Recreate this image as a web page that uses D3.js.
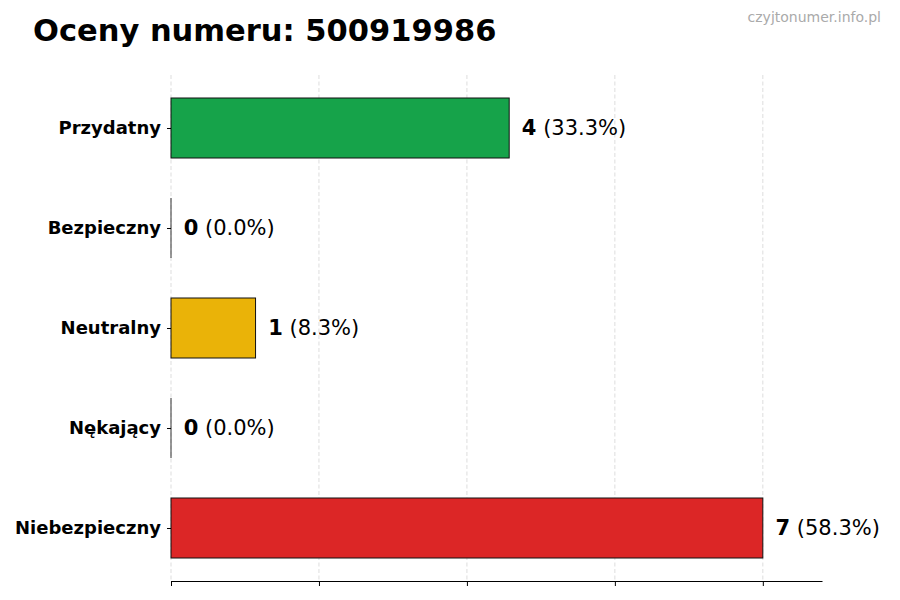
<!DOCTYPE html>
<html>
<head>
<meta charset="utf-8">
<script src="https://cdn.jsdelivr.net/npm/d3@7"></script>
<style>
  body { margin: 0; background: #fff; }
  svg { font-family: "DejaVu Sans", sans-serif; }
</style>
</head>
<body>
<svg id="chart" width="900" height="600"></svg>
<script>
var categories = ["Przydatny", "Bezpieczny", "Neutralny", "Nękający", "Niebezpieczny"];
var counts = [4, 0, 1, 0, 7];
var percents = ["33.3%", "0.0%", "8.3%", "0.0%", "58.3%"];
var colors = ["#16a34a", "#16a34a", "#eab308", "#dc2626", "#dc2626"];
var xTicks = [0, 1.75, 3.5, 5.25, 7];

var svg = d3.select('#chart');
var plotLeft = 171, plotRight = 822, plotTop = 75, plotBottom = 581;

var x = d3.scaleLinear().domain([0, 7.7]).range([plotLeft, plotRight]);
var y = d3.scaleLinear().domain([-0.53, 4.53]).range([plotTop, plotBottom]);
var barH = y(0.3) - y(-0.3);

// title + watermark
svg.append('text').attr('x', 33).attr('y', 41)
    .attr('font-size', 30.5).attr('font-weight', 'bold').attr('fill', '#000')
    .text('Oceny numeru: 500919986');
svg.append('text').attr('x', 881).attr('y', 22).attr('text-anchor', 'end')
    .attr('font-size', 14).attr('fill', '#aaaaaa')
    .text('czyjtonumer.info.pl');

// grid
svg.append('g').selectAll('line').data(xTicks).enter().append('line')
    .attr('x1', function(d) { return x(d) }).attr('x2', function(d) { return x(d) })
    .attr('y1', plotTop).attr('y2', plotBottom)
    .attr('stroke', '#d4d4d4').attr('stroke-width', 0.8)
    .attr('stroke-dasharray', '4,2.5');

// bars
svg.append('g').selectAll('rect').data(counts).enter().append('rect')
    .attr('x', x(0))
    .attr('y', function(d, i) { return y(i) - barH / 2 })
    .attr('width', function(d) { return x(d) - x(0) })
    .attr('height', barH)
    .attr('fill', function(d, i) { return colors[i] })
    .attr('stroke', '#111').attr('stroke-width', 1);

// zero bars still show their edge
counts.forEach(function(d, i) {
  if (d === 0) {
    svg.append('line')
      .attr('x1', x(0)).attr('x2', x(0))
      .attr('y1', y(i) - barH / 2).attr('y2', y(i) + barH / 2)
      .attr('stroke', '#333').attr('stroke-width', 1);
  }
});

// value labels
var labels = svg.append('g').selectAll('text').data(counts).enter().append('text')
    .attr('x', function(d) { return x(d + 0.15) })
    .attr('y', function(d, i) { return y(i) })
    .attr('dy', '0.35em')
    .attr('font-size', 21).attr('fill', '#000');
labels.append('tspan').attr('font-weight', 'bold').text(function(d) { return d });
labels.append('tspan').text(function(d, i) { return ' (' + percents[i] + ')' });

// y axis (no spine)
var yAxis = svg.append('g').attr('transform', 'translate(' + plotLeft + ',0)')
    .call(d3.axisLeft(y).tickValues(d3.range(categories.length))
        .tickFormat(function(i) { return categories[i] }).tickSize(4).tickPadding(6));
yAxis.select('.domain').remove();
yAxis.selectAll('text').attr('font-size', 18).attr('font-weight', 'bold')
    .attr('fill', '#000').attr('font-family', '"DejaVu Sans", sans-serif');

// x axis, ticks without labels
var xAxis = svg.append('g').attr('transform', 'translate(0,' + plotBottom + ')')
    .call(d3.axisBottom(x).tickValues(xTicks).tickFormat('').tickSize(5).tickSizeOuter(0));
xAxis.select('.domain').attr('stroke', '#000').attr('stroke-width', 1.2);
</script>
</body>
</html>
